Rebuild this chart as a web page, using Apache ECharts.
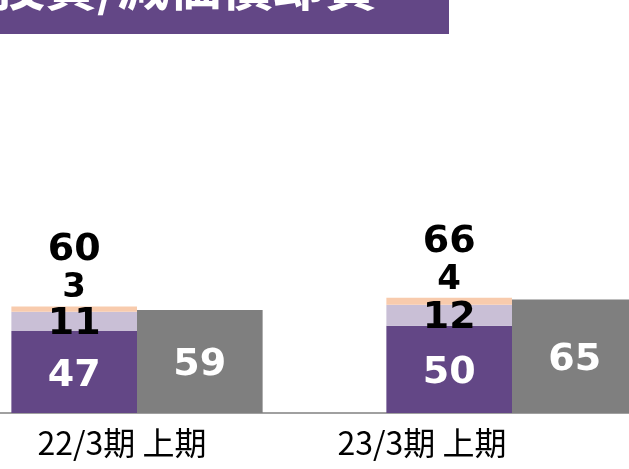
<!DOCTYPE html>
<html lang="ja">
<head>
<meta charset="utf-8">
<script src="https://cdn.jsdelivr.net/npm/echarts@6/dist/echarts.min.js"></script>
</head>
<body style="margin:0">
<div id="container" style="width:629px;height:469px"></div>
<script type="text/javascript">
    // data
    var categories = ['22/3期 上期', '23/3期 上期'];
    var seriesA = [47, 50];   // dark purple
    var seriesB = [11, 12];   // light purple
    var seriesC = [3, 4];     // peach
    var totals = [60, 66];    // printed above the stack
    var seriesD = [59, 65];   // grey
    var titleText = '設備投資/減価償却費';

    var numFont = 'DejaVu Sans';
    var cjkFont = 'Noto Sans CJK JP';

    var myChart = echarts.init(document.getElementById('container'), null, {renderer: 'canvas'});

    var option = {
        animation: false,
        backgroundColor: '#ffffff',
        grid: {
            left: -50.5,
            right: -70.5,
            top: 238.5,
            bottom: 56,
            outerBoundsMode: 'none',
            containLabel: false
        },
        xAxis: {
            type: 'category',
            data: categories,
            axisTick: {show: false},
            axisLine: {lineStyle: {color: '#a0a0a0', width: 2}},
            axisLabel: {
                margin: 14,
                formatter: function (v, i) {
                    return '{l' + i + '|' + v + '}';
                },
                rich: {
                    l0: {fontFamily: cjkFont, fontSize: 32, color: '#000', padding: [0, 30, 0, 0]},
                    l1: {fontFamily: cjkFont, fontSize: 32, color: '#000', padding: [0, 180, 0, 0]}
                }
            }
        },
        yAxis: {
            type: 'value',
            min: 0,
            max: 100,
            show: false,
            splitLine: {show: false}
        },
        graphic: [
            {
                type: 'rect',
                shape: {x: 0, y: 0, width: 449, height: 34},
                style: {fill: '#634786'},
                z: 10
            },
            {
                type: 'text',
                x: 377,
                y: -14,
                style: {
                    text: titleText,
                    fill: '#fff',
                    font: 'bold 52px "Noto Sans CJK JP"',
                    textAlign: 'right',
                    textVerticalAlign: 'middle'
                },
                z: 11
            }
        ],
        series: [
            {
                name: 'a',
                type: 'bar',
                stack: 'total',
                barGap: '0%',
                barCategoryGap: '33%',
                data: seriesA,
                itemStyle: {color: '#634786'},
                label: {
                    show: true,
                    position: 'inside',
                    offset: [0, 4],
                    color: '#fff',
                    fontFamily: numFont,
                    fontWeight: 'bold',
                    fontSize: 38
                }
            },
            {
                name: 'b',
                type: 'bar',
                stack: 'total',
                data: seriesB,
                itemStyle: {color: '#c9bfd6'},
                label: {
                    show: true,
                    position: 'inside',
                    offset: [0, 3],
                    color: '#000',
                    fontFamily: numFont,
                    fontWeight: 'bold',
                    fontSize: 38
                }
            },
            {
                name: 'c',
                type: 'bar',
                stack: 'total',
                data: seriesC,
                itemStyle: {color: '#f8cbad'},
                label: {
                    show: true,
                    position: 'top',
                    distance: 0,
                    formatter: function (p) {
                        return '{t|' + totals[p.dataIndex] + '}\n{v|' + p.value + '}';
                    },
                    rich: {
                        t: {fontFamily: numFont, fontWeight: 'bold', fontSize: 38, color: '#000', lineHeight: 40, align: 'center'},
                        v: {fontFamily: numFont, fontWeight: 'bold', fontSize: 34, color: '#000', lineHeight: 36, align: 'center'}
                    }
                }
            },
            {
                name: 'd',
                type: 'bar',
                stack: 'other',
                data: seriesD,
                itemStyle: {color: '#7f7f7f'},
                label: {
                    show: true,
                    position: 'inside',
                    offset: [0, 4],
                    color: '#fff',
                    fontFamily: numFont,
                    fontWeight: 'bold',
                    fontSize: 38
                }
            }
        ]
    };

    myChart.setOption(option);
</script>
</body>
</html>
